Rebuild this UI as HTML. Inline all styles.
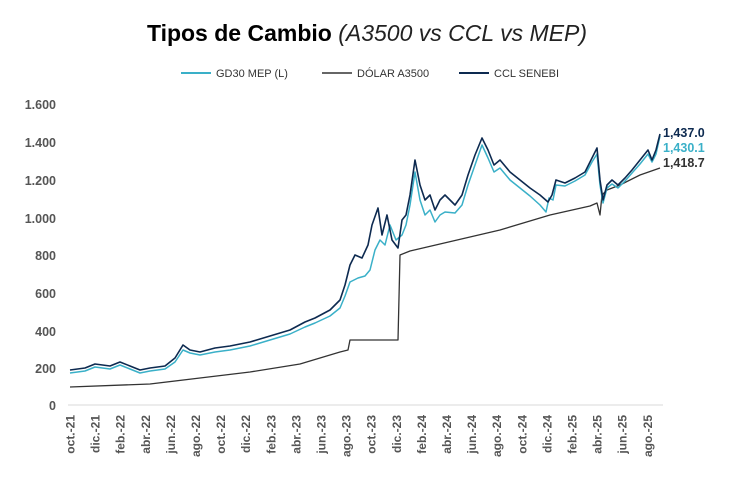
<!DOCTYPE html>
<html><head><meta charset="utf-8"><style>
body{margin:0;background:#fff;}
svg{display:block;font-family:"Liberation Sans",sans-serif;}
</style></head><body>
<svg width="734" height="486" viewBox="0 0 734 486">
<text x="367" y="41" text-anchor="middle" font-size="23"><tspan font-weight="bold" fill="#000">Tipos de Cambio </tspan><tspan font-style="italic" fill="#222">(A3500 vs CCL vs MEP)</tspan></text>
<g font-size="11" fill="#333">
<line x1="181" y1="73" x2="211" y2="73" stroke="#3ab0c8" stroke-width="2"/><text x="216" y="77">GD30 MEP (L)</text>
<line x1="322" y1="73" x2="352" y2="73" stroke="#333" stroke-width="1.5"/><text x="357" y="77">DÓLAR A3500</text>
<line x1="459" y1="73" x2="489" y2="73" stroke="#0d2a50" stroke-width="2"/><text x="494" y="77">CCL SENEBI</text>
</g>
<g font-size="12.5" font-weight="bold" fill="#555" text-anchor="end">
<text x="56" y="109">1.600</text><text x="56" y="147">1.400</text><text x="56" y="185">1.200</text><text x="56" y="223">1.000</text>
<text x="56" y="260">800</text><text x="56" y="298">600</text><text x="56" y="336">400</text><text x="56" y="373">200</text><text x="56" y="410">0</text>
</g>
<line x1="68" y1="405" x2="663" y2="405" stroke="#d8d8d8" stroke-width="1"/>
<g font-size="12" font-weight="bold" fill="#555" text-anchor="end">
<text transform="translate(74.5,415) rotate(-90)">oct.-21</text>
<text transform="translate(99.6,415) rotate(-90)">dic.-21</text>
<text transform="translate(124.7,415) rotate(-90)">feb.-22</text>
<text transform="translate(149.8,415) rotate(-90)">abr.-22</text>
<text transform="translate(174.9,415) rotate(-90)">jun.-22</text>
<text transform="translate(200,415) rotate(-90)">ago.-22</text>
<text transform="translate(225.1,415) rotate(-90)">oct.-22</text>
<text transform="translate(250.2,415) rotate(-90)">dic.-22</text>
<text transform="translate(275.3,415) rotate(-90)">feb.-23</text>
<text transform="translate(300.4,415) rotate(-90)">abr.-23</text>
<text transform="translate(325.5,415) rotate(-90)">jun.-23</text>
<text transform="translate(350.6,415) rotate(-90)">ago.-23</text>
<text transform="translate(375.7,415) rotate(-90)">oct.-23</text>
<text transform="translate(400.8,415) rotate(-90)">dic.-23</text>
<text transform="translate(425.9,415) rotate(-90)">feb.-24</text>
<text transform="translate(451,415) rotate(-90)">abr.-24</text>
<text transform="translate(476.1,415) rotate(-90)">jun.-24</text>
<text transform="translate(501.2,415) rotate(-90)">ago.-24</text>
<text transform="translate(526.3,415) rotate(-90)">oct.-24</text>
<text transform="translate(551.4,415) rotate(-90)">dic.-24</text>
<text transform="translate(576.5,415) rotate(-90)">feb.-25</text>
<text transform="translate(601.6,415) rotate(-90)">abr.-25</text>
<text transform="translate(626.7,415) rotate(-90)">jun.-25</text>
<text transform="translate(651.8,415) rotate(-90)">ago.-25</text>
</g>
<g fill="none" stroke-linejoin="round">
<polyline stroke="#333" stroke-width="1.3" points="70,387 150,384 200,378 250,372 300,364 340,352 348,350 350,340 398,340 400,255 410,251 500,230 550,215 590,206 597,203 600,215 602,195 607,190 620,185 640,175 660,168"/>
<polyline stroke="#3ab0c8" stroke-width="1.5" points="70,373 85,371 95,367 110,369 120,365 130,369 140,373 150,371 165,369 175,362 183,350 190,353 200,355 215,352 230,350 250,346 270,340 290,334 305,327 315,323 330,316 340,308 345,296 350,282 358,278 365,276 370,270 375,250 380,240 385,245 390,225 396,240 402,235 406,225 410,205 415,172 420,200 425,215 430,210 435,222 440,215 445,212 455,213 462,205 468,185 475,165 482,145 488,158 494,172 500,168 510,180 520,188 530,196 540,205 546,212 549,198 553,200 556,185 565,186 575,181 585,175 592,162 597,154 600,185 603,203 607,188 612,184 618,188 625,181 632,173 640,164 648,154 652,162 656,154 660,136"/>
<polyline stroke="#0d2a50" stroke-width="1.6" points="70,370 85,368 95,364 110,366 120,362 130,366 140,370 150,368 165,366 175,358 183,345 190,350 200,352 215,348 230,346 250,342 270,336 290,330 305,322 315,318 330,310 340,300 345,285 350,265 355,255 362,258 368,245 372,225 378,208 382,235 387,215 392,240 398,248 402,220 406,215 410,195 415,160 420,185 425,200 430,195 435,210 440,200 445,195 455,205 462,195 468,175 475,155 482,138 488,150 494,165 500,160 510,172 520,180 530,188 540,195 548,202 552,195 556,180 565,183 575,178 585,172 592,158 597,148 600,180 603,200 607,185 612,180 618,185 625,178 632,170 640,160 648,150 652,160 656,150 660,134"/>
</g>
<g font-size="12.5" font-weight="bold">
<text x="663" y="137" fill="#0d2a50">1,437.0</text>
<text x="663" y="152" fill="#3ab0c8">1,430.1</text>
<text x="663" y="167" fill="#333">1,418.7</text>
</g>
</svg>
</body></html>
